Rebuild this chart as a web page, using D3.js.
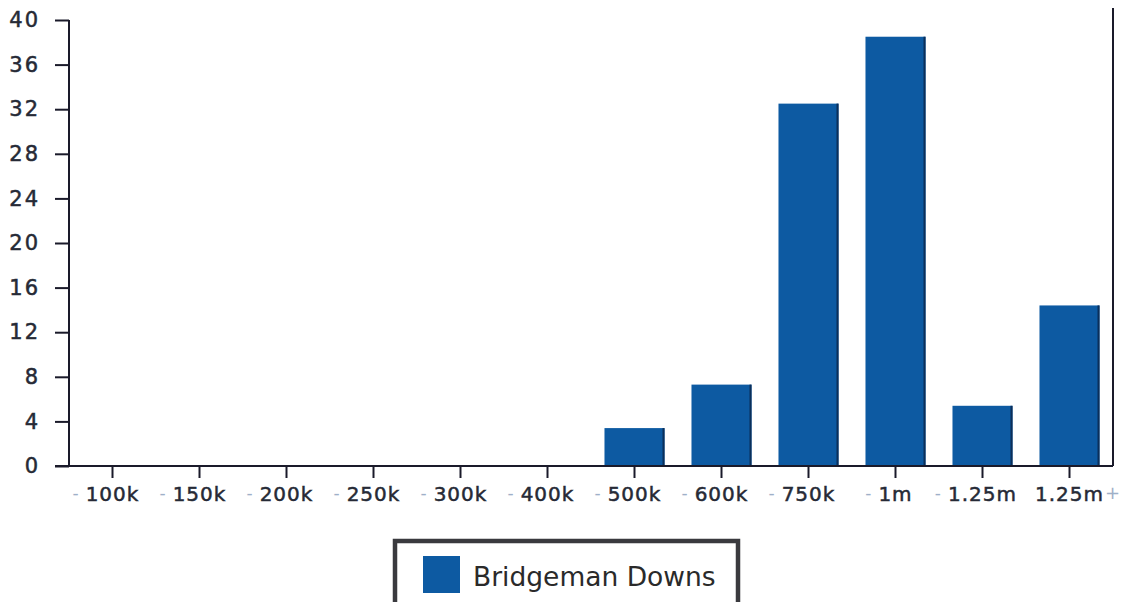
<!DOCTYPE html>
<html><head><meta charset="utf-8">
<script src="https://cdn.jsdelivr.net/npm/d3@7"></script>
<style>body{margin:0;background:#fff;}svg{display:block;}</style>
</head><body>
<svg id="c" width="1127" height="602"></svg>
<script>
const categories = ["100k","150k","200k","250k","300k","400k","500k","600k","750k","1m","1.25m","1.25m+"];
const prefixes = ["-","-","-","-","-","-","-","-","-","-","-",""];
const values = [0,0,0,0,0,0,3.4,7.3,32.5,38.5,5.4,14.4];
const yTicks = [0,4,8,12,16,20,24,28,32,36,40];
const seriesName = "Bridgeman Downs";

(function(){
const svg = d3.select("#c");
const pLeft = 69, pRight = 1113, pTop = 20, pBottom = 466;
const x = d3.scaleBand().domain(categories).range([pLeft, pRight]).paddingInner(0.31).paddingOuter(0.155);
const y = d3.scaleLinear().domain([0, 40]).range([pBottom, pTop]);
const font = "'DejaVu Sans', Verdana, sans-serif";
const ink = "#262a36", light = "#9fb0c8", barFill = "#0d5aa2";

// bars
svg.append("g").selectAll("rect").data(values).join("rect")
  .attr("x", (d,i) => x(categories[i]))
  .attr("y", d => y(d))
  .attr("width", x.bandwidth())
  .attr("height", d => pBottom - y(d))
  .attr("fill", barFill);
svg.append("g").selectAll("rect").data(values).join("rect")
  .attr("x", (d,i) => x(categories[i]) + x.bandwidth() - 2)
  .attr("y", d => y(d))
  .attr("width", d => d > 0 ? 2 : 0)
  .attr("height", d => pBottom - y(d))
  .attr("fill", "#0b2f5a");

// y axis
const yAxis = d3.axisLeft(y).tickValues(yTicks).tickSize(14).tickPadding(15);
const gy = svg.append("g").attr("transform", `translate(${pLeft},0)`).call(yAxis);
gy.select(".domain").attr("stroke", "#1a1a2a").attr("stroke-width", 2).attr("d", `M0,${pTop}V${pBottom}`);
gy.selectAll(".tick line").attr("stroke", "#1a1a2a").attr("stroke-width", 2);
gy.selectAll(".tick text").attr("font-family", font).attr("font-size", 21).attr("fill", ink)
  .attr("letter-spacing", 2).attr("stroke", ink).attr("stroke-width", 0.5);

// x axis
const xAxis = d3.axisBottom(x).tickSize(12).tickFormat(() => "");
const gx = svg.append("g").attr("transform", `translate(0,${pBottom})`).call(xAxis);
gx.select(".domain").attr("stroke", "#1a1a2a").attr("stroke-width", 2).attr("d", `M55,0H${pRight}`);
gx.selectAll(".tick line").attr("stroke", "#1a1a2a").attr("stroke-width", 2);
gx.selectAll(".tick").each(function(d, i) {
  const g = d3.select(this);
  const plus = d.endsWith("+");
  const main = plus ? d.slice(0, -1) : d;
  const t = g.append("text")
    .attr("y", 35).attr("x", 0)
    .attr("text-anchor", "middle")
    .attr("font-family", font).attr("font-size", 20).attr("letter-spacing", 1)
    .attr("stroke", ink).attr("stroke-width", 0.5)
    .attr("fill", ink).text(main);
  const w = t.node().getComputedTextLength();
  if (prefixes[i]) {
    g.append("text").attr("y", 33).attr("x", -w/2 - 7)
      .attr("text-anchor", "end").attr("font-family", font).attr("font-size", 17)
      .attr("fill", light).text(prefixes[i]);
  }
  if (plus) {
    g.append("text").attr("y", 33).attr("x", w/2 + 1)
      .attr("text-anchor", "start").attr("font-family", font).attr("font-size", 18)
      .attr("fill", light).text("+");
  }
});

// right border
svg.append("line").attr("x1", pRight).attr("x2", pRight).attr("y1", 8).attr("y2", pBottom)
  .attr("stroke", "#1a1a2a").attr("stroke-width", 2);

// legend
const lg = svg.append("g");
lg.append("rect").attr("x", 395).attr("y", 541).attr("width", 343).attr("height", 70)
  .attr("fill", "#fff").attr("stroke", "#3a3a3e").attr("stroke-width", 4.5);
lg.append("rect").attr("x", 423).attr("y", 556).attr("width", 37).attr("height", 37).attr("fill", barFill);
lg.append("text").attr("x", 473).attr("y", 586).attr("font-family", font).attr("font-size", 26.5)
  .attr("fill", "#2a2a2a").text(seriesName);
})();
</script>
</body></html>
